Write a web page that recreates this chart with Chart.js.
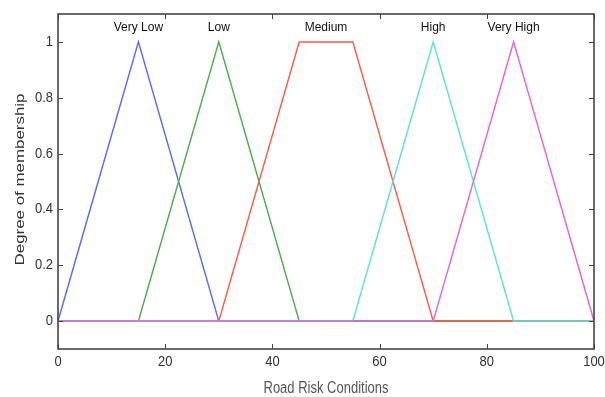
<!DOCTYPE html>
<html>
<head>
<meta charset="utf-8">
<script src="https://cdn.jsdelivr.net/npm/chart.js@4"></script>
<style>
html,body{margin:0;padding:0;background:#fff;}
#wrap{width:605px;height:397px;position:relative;}
</style>
</head>
<body>
<div id="wrap"><canvas id="c" width="605" height="397"></canvas></div>
<script>
// ---- data ----
const categories = ['Very Low', 'Low', 'Medium', 'High', 'Very High'];
const veryLowX  = [0, 15, 30, 100];
const veryLowY  = [0, 1, 0, 0];
const lowX      = [0, 15, 30, 45, 100];
const lowY      = [0, 0, 1, 0, 0];
const mediumX   = [0, 30, 45, 55, 70, 100];
const mediumY   = [0, 0, 1, 1, 0, 0];
const highX     = [0, 55, 70, 85, 100];
const highY     = [0, 0, 1, 0, 0];
const veryHighX = [0, 70, 85, 100];
const veryHighY = [0, 0, 1, 0];
const labelX    = [15, 30, 50, 70, 85];   // centre of each term's peak
const xTicks    = [0, 20, 40, 60, 80, 100];
const yTicks    = [0, 0.2, 0.4, 0.6, 0.8, 1];
const xTitle    = 'Road Risk Conditions';
const yTitle    = 'Degree of membership';

const seriesX = [veryLowX, lowX, mediumX, highX, veryHighX];
const seriesY = [veryLowY, lowY, mediumY, highY, veryHighY];
const colors  = ['#5b6cff', '#4fae4f', '#ff5a48', '#5ee0e0', '#e068e0'];

const datasets = categories.map((name, i) => ({
  label: name,
  data: seriesX[i].map((x, j) => ({x: x, y: seriesY[i][j]})),
  borderColor: colors[i],
  borderWidth: 1.5,
  pointRadius: 0,
  fill: false,
  tension: 0,
  order: categories.length - i
}));

const FONT = '"Liberation Sans", Arial, sans-serif';

function stretchedText(ctx, text, x, y, sy, align) {
  ctx.save();
  ctx.translate(x, y);
  ctx.scale(1, sy);
  ctx.textAlign = align;
  ctx.textBaseline = 'middle';
  ctx.fillText(text, 0, 0);
  ctx.restore();
}

const framePlugin = {
  id: 'frame',
  afterDraw(chart) {
    const ctx = chart.ctx, a = chart.chartArea;
    const xs = chart.scales.x, ys = chart.scales.y;
    ctx.save();
    // labels above peaks
    ctx.fillStyle = '#111';
    ctx.font = '12px ' + FONT;
    categories.forEach((name, i) => {
      stretchedText(ctx, name, xs.getPixelForValue(labelX[i]), ys.getPixelForValue(1.05), 1.0, 'center');
    });
    // box
    ctx.strokeStyle = '#444';
    ctx.lineWidth = 1.6;
    ctx.strokeRect(a.left, a.top, a.right - a.left, a.bottom - a.top);
    // inward tick marks
    ctx.lineWidth = 1;
    const tl = 5;
    xTicks.forEach(v => {
      const px = Math.round(xs.getPixelForValue(v)) + 0.5;
      ctx.beginPath();
      ctx.moveTo(px, a.bottom); ctx.lineTo(px, a.bottom - tl);
      ctx.moveTo(px, a.top); ctx.lineTo(px, a.top + tl);
      ctx.stroke();
    });
    yTicks.forEach(v => {
      const py = Math.round(ys.getPixelForValue(v)) + 0.5;
      ctx.beginPath();
      ctx.moveTo(a.left, py); ctx.lineTo(a.left + tl, py);
      ctx.moveTo(a.right, py); ctx.lineTo(a.right - tl, py);
      ctx.stroke();
    });
    // tick labels
    ctx.fillStyle = '#333';
    ctx.font = '13px ' + FONT;
    xTicks.forEach(v => {
      stretchedText(ctx, String(v), xs.getPixelForValue(v), a.bottom + 13, 1.12, 'center');
    });
    yTicks.forEach(v => {
      stretchedText(ctx, String(v), a.left - 5, ys.getPixelForValue(v), 1.12, 'right');
    });
    // axis titles
    ctx.fillStyle = '#555';
    ctx.font = '13px ' + FONT;
    stretchedText(ctx, xTitle, (a.left + a.right) / 2, 388.5, 1.25, 'center');
    ctx.fillStyle = '#333';
    ctx.save();
    ctx.translate(20, (a.top + a.bottom) / 2 - 2);
    ctx.scale(1, 1.3);
    ctx.rotate(-Math.PI / 2);
    ctx.textAlign = 'center';
    ctx.textBaseline = 'middle';
    ctx.fillText(yTitle, 0, 0);
    ctx.restore();
    ctx.restore();
  }
};

new Chart(document.getElementById('c'), {
  type: 'line',
  data: { datasets: datasets },
  options: {
    responsive: false,
    animation: false,
    layout: { padding: { left: 0, top: 14, right: 11, bottom: 0 } },
    plugins: { legend: { display: false }, tooltip: { enabled: false } },
    scales: {
      x: {
        type: 'linear', min: 0, max: 100,
        afterBuildTicks: s => { s.ticks = xTicks.map(v => ({value: v})); },
        afterFit: s => { s.height = 48; s.paddingLeft = 0; s.paddingRight = 0; },
        grid: { display: false, drawTicks: false },
        border: { display: false },
        ticks: { display: false }
      },
      y: {
        type: 'linear', min: -0.1, max: 1.1,
        afterBuildTicks: s => { s.ticks = yTicks.map(v => ({value: v})); },
        afterFit: s => { s.width = 58; s.paddingTop = 0; s.paddingBottom = 0; },
        grid: { display: false, drawTicks: false },
        border: { display: false },
        ticks: { display: false }
      }
    }
  },
  plugins: [framePlugin]
});
</script>
</body>
</html>
